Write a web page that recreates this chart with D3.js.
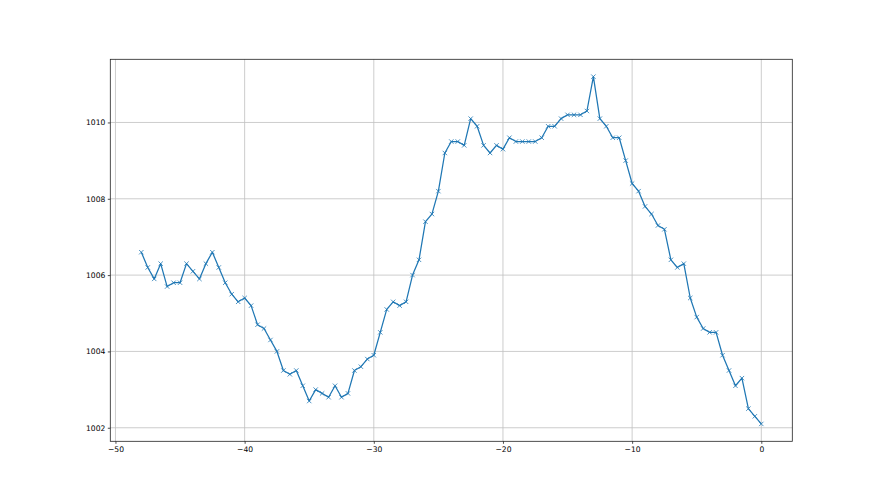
<!DOCTYPE html>
<html>
<head>
<meta charset="utf-8">
<script src="https://cdn.jsdelivr.net/npm/d3@7"></script>
<style>
  html, body { margin: 0; padding: 0; background: #fff; }
  svg text { font-family: "DejaVu Sans", sans-serif; font-size: 7.6px; fill: #000; }
</style>
</head>
<body>
<svg id="chart" width="880" height="495"></svg>
<script>
// x positions: every half step from -48 to 0
const xValues = [
  -48, -47.5, -47, -46.5, -46, -45.5, -45, -44.5, -44, -43.5,
  -43, -42.5, -42, -41.5, -41, -40.5, -40, -39.5, -39, -38.5,
  -38, -37.5, -37, -36.5, -36, -35.5, -35, -34.5, -34, -33.5,
  -33, -32.5, -32, -31.5, -31, -30.5, -30, -29.5, -29, -28.5,
  -28, -27.5, -27, -26.5, -26, -25.5, -25, -24.5, -24, -23.5,
  -23, -22.5, -22, -21.5, -21, -20.5, -20, -19.5, -19, -18.5,
  -18, -17.5, -17, -16.5, -16, -15.5, -15, -14.5, -14, -13.5,
  -13, -12.5, -12, -11.5, -11, -10.5, -10, -9.5, -9, -8.5,
  -8, -7.5, -7, -6.5, -6, -5.5, -5, -4.5, -4, -3.5,
  -3, -2.5, -2, -1.5, -1, -0.5, 0
];

const pressure = [
  1006.6, 1006.2, 1005.9, 1006.3, 1005.7, 1005.8, 1005.8, 1006.3, 1006.1, 1005.9,
  1006.3, 1006.6, 1006.2, 1005.8, 1005.5, 1005.3, 1005.4, 1005.2, 1004.7, 1004.6,
  1004.3, 1004.0, 1003.5, 1003.4, 1003.5, 1003.1, 1002.7, 1003.0, 1002.9, 1002.8,
  1003.1, 1002.8, 1002.9, 1003.5, 1003.6, 1003.8, 1003.9, 1004.5, 1005.1, 1005.3,
  1005.2, 1005.3, 1006.0, 1006.4, 1007.4, 1007.6, 1008.2, 1009.2, 1009.5, 1009.5,
  1009.4, 1010.1, 1009.9, 1009.4, 1009.2, 1009.4, 1009.3, 1009.6, 1009.5, 1009.5,
  1009.5, 1009.5, 1009.6, 1009.9, 1009.9, 1010.1, 1010.2, 1010.2, 1010.2, 1010.3,
  1011.2, 1010.1, 1009.9, 1009.6, 1009.6, 1009.0, 1008.4, 1008.2, 1007.8, 1007.6,
  1007.3, 1007.2, 1006.4, 1006.2, 1006.3, 1005.4, 1004.9, 1004.6, 1004.5, 1004.5,
  1003.9, 1003.5, 1003.1, 1003.3, 1002.5, 1002.3, 1002.1
];

const xTicks = [-50, -40, -30, -20, -10, 0];
const yTicks = [1002, 1004, 1006, 1008, 1010];

const data = xValues.map((x, i) => ({ x, y: pressure[i] }));

const margin = { top: 59.3, right: 87.7, bottom: 53.7, left: 110.3 };
const width = 880 - margin.left - margin.right;
const height = 495 - margin.top - margin.bottom;

// matplotlib style 5% padding
const pad = (ext) => {
  const d = (ext[1] - ext[0]) * 0.05;
  return [ext[0] - d, ext[1] + d];
};

const x = d3.scaleLinear()
  .domain(pad(d3.extent(xValues)))
  .range([0, width]);

const y = d3.scaleLinear()
  .domain(pad(d3.extent(pressure)))
  .range([height, 0]);

const svg = d3.select('#chart');
const main = svg.append('g')
  .attr('transform', `translate(${margin.left},${margin.top})`);

// grid
main.append('g')
  .attr('class', 'grid')
  .selectAll('line')
  .data(xTicks)
  .join('line')
  .attr('x1', d => x(d)).attr('x2', d => x(d))
  .attr('y1', 0).attr('y2', height)
  .attr('stroke', '#c0c0c0')
  .attr('stroke-width', 0.8);

main.append('g')
  .attr('class', 'grid')
  .selectAll('line')
  .data(yTicks)
  .join('line')
  .attr('x1', 0).attr('x2', width)
  .attr('y1', d => y(d)).attr('y2', d => y(d))
  .attr('stroke', '#c0c0c0')
  .attr('stroke-width', 0.8);

const fmtMinus = d => String(d).replace('-', '\u2212');

const xAxis = d3.axisBottom(x)
  .tickValues(xTicks)
  .tickSize(2.5)
  .tickPadding(2.5)
  .tickFormat(fmtMinus);

const yAxis = d3.axisLeft(y)
  .tickValues(yTicks)
  .tickSize(2.5)
  .tickPadding(2.5)
  .tickFormat(d3.format('d'));

const gx = main.append('g')
  .attr('transform', `translate(0,${height})`)
  .call(xAxis);
const gy = main.append('g')
  .call(yAxis);

[gx, gy].forEach(g => {
  g.select('.domain').remove();
  g.selectAll('.tick line').attr('stroke', '#222').attr('stroke-width', 0.8);
  g.selectAll('.tick text').attr('fill', '#000').style('font-size', '7.6px')
    .style('font-family', '"DejaVu Sans", sans-serif');
});

// line
const line = d3.line()
  .x(d => x(d.x))
  .y(d => y(d.y));

main.append('path')
  .datum(data)
  .attr('fill', 'none')
  .attr('stroke', '#1f77b4')
  .attr('stroke-width', 1.25)
  .attr('stroke-linejoin', 'round')
  .attr('d', line);

// x markers
const m = 2.2;
main.append('g')
  .selectAll('path')
  .data(data)
  .join('path')
  .attr('transform', d => `translate(${x(d.x)},${y(d.y)})`)
  .attr('d', `M${-m},${-m}L${m},${m}M${-m},${m}L${m},${-m}`)
  .attr('stroke', '#1f77b4')
  .attr('stroke-width', 0.8)
  .attr('fill', 'none');

// frame
main.append('rect')
  .attr('x', 0).attr('y', 0)
  .attr('width', width).attr('height', height)
  .attr('fill', 'none')
  .attr('stroke', '#222')
  .attr('stroke-width', 0.8);
</script>
</body>
</html>
